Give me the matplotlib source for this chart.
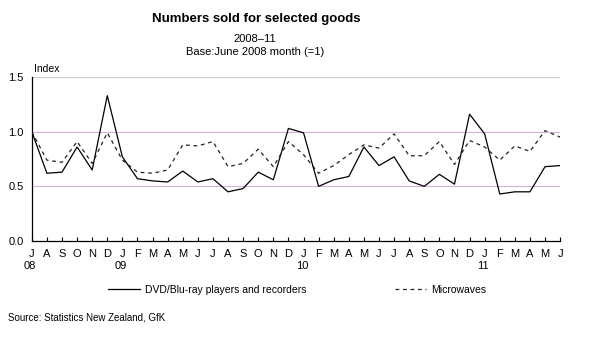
import numpy as np
import matplotlib.pyplot as plt
import matplotlib.transforms as mtransforms

plt.rcParams['font.family'] = ['Liberation Sans', 'DejaVu Sans']

# monthly data, July 2008 - June 2011
months = ['J', 'A', 'S', 'O', 'N', 'D',
          'J', 'F', 'M', 'A', 'M', 'J', 'J', 'A', 'S', 'O', 'N', 'D',
          'J', 'F', 'M', 'A', 'M', 'J', 'J', 'A', 'S', 'O', 'N', 'D',
          'J', 'F', 'M', 'A', 'M', 'J']
years = {0: '08', 6: '09', 18: '10', 30: '11'}

dvd = [1.00, 0.62, 0.63, 0.86, 0.65, 1.33,
       0.77, 0.57, 0.55, 0.54, 0.64, 0.54, 0.57, 0.45, 0.48, 0.63, 0.56, 1.03,
       0.99, 0.50, 0.56, 0.59, 0.86, 0.69, 0.77, 0.55, 0.50, 0.61, 0.52, 1.16,
       0.98, 0.43, 0.45, 0.45, 0.68, 0.69]
micro = [1.00, 0.74, 0.72, 0.91, 0.71, 0.99,
         0.74, 0.63, 0.62, 0.65, 0.88, 0.87, 0.91, 0.68, 0.71, 0.84, 0.68, 0.91,
         0.79, 0.62, 0.69, 0.79, 0.88, 0.85, 0.98, 0.78, 0.78, 0.91, 0.70, 0.92,
         0.86, 0.74, 0.87, 0.82, 1.01, 0.95]

x = np.arange(len(months))

fig = plt.figure(figsize=(5.89, 3.38), dpi=100)
ax = fig.add_axes([0.054, 0.287, 0.897, 0.485])

ax.axhline(1.5, color='#cccccc', lw=0.8, zorder=1)
for v in (0.5, 1.0):
    ax.axhline(v, color='#d6b2d6', lw=0.8, zorder=1)

l1, = ax.plot(x, dvd, color='black', lw=0.9, zorder=3)
l2, = ax.plot(x, micro, color='#222222', lw=0.9, ls=(0, (3, 3)), zorder=3)

ax.set_xlim(0, len(months) - 1)
ax.set_ylim(0, 1.5)
ax.set_yticks([0, 0.5, 1.0, 1.5])
ax.set_yticklabels(['0.0', '0.5', '1.0', '1.5'], fontsize=8)
ax.set_xticks(x)
ax.set_xticklabels(months, fontsize=8)
ax.tick_params(axis='x', direction='in', length=3, width=0.8, pad=6)
ax.tick_params(axis='y', length=0, pad=6)
for s in ('top', 'right'):
    ax.spines[s].set_visible(False)
for s in ('left', 'bottom'):
    ax.spines[s].set_linewidth(0.9)

trans = mtransforms.blended_transform_factory(ax.transData, ax.transAxes)
for i, yr in years.items():
    ax.text(i - 0.1, -0.12, yr, transform=trans, fontsize=8, ha='center', va='top')

ax.text(0.005, 1.02, 'Index', transform=ax.transAxes, fontsize=7.5,
        ha='left', va='bottom')

fig.text(0.435, 0.945, 'Numbers sold for selected goods', fontsize=9.5,
         fontweight='bold', ha='center', va='center')
fig.text(0.433, 0.885, '2008\u201311', fontsize=8, ha='center', va='center')
fig.text(0.433, 0.845, 'Base:June 2008 month (=1)', fontsize=8,
         ha='center', va='center')

fig.legend([l1, l2], ['DVD/Blu-ray players and recorders', 'Microwaves'],
           loc='center', bbox_to_anchor=(0.505, 0.142), ncol=2, frameon=False,
           fontsize=7.5, handlelength=3, columnspacing=8.5, handletextpad=0.5)

fig.text(0.014, 0.062, 'Source: Statistics New Zealand, GfK', fontsize=7,
         ha='left', va='center')

fig.savefig('out.png', dpi=100)
